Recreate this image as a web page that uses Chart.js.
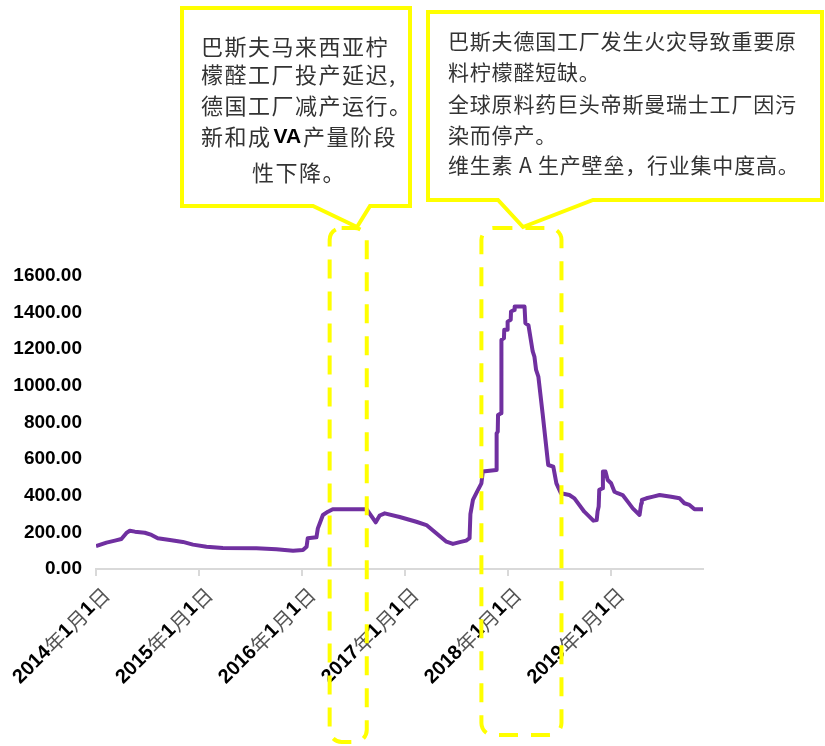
<!DOCTYPE html>
<html>
<head>
<meta charset="utf-8">
<script src="https://cdn.jsdelivr.net/npm/chart.js@4/dist/chart.umd.min.js"></script>
<style>
  body { margin: 0; background: #fff; }
  canvas { display: block; }
</style>
</head>
<body>
<canvas id="va_price" width="825" height="746"></canvas>
<script>
// 维生素A 价格走势 (元/公斤)
const dates = [
  "2014-01-01", "2014-02-07", "2014-03-09", "2014-04-01", "2014-04-19", "2014-05-01",
  "2014-05-19", "2014-06-23", "2014-07-17", "2014-08-08", "2014-09-20", "2014-11-05",
  "2014-12-11", "2015-01-28", "2015-03-27", "2015-07-24", "2015-10-03", "2015-12-01",
  "2016-01-05", "2016-01-18", "2016-01-22", "2016-02-22", "2016-02-27", "2016-03-05",
  "2016-03-16", "2016-04-03", "2016-04-20", "2016-08-19", "2016-09-04", "2016-09-20",
  "2016-10-04", "2016-10-22", "2016-12-14", "2017-02-11", "2017-03-19", "2017-04-23",
  "2017-05-29", "2017-06-21", "2017-07-15", "2017-08-07", "2017-08-19", "2017-08-22",
  "2017-08-31", "2017-09-12", "2017-09-30", "2017-10-05", "2017-11-22", "2017-11-23",
  "2017-11-27", "2017-11-28", "2017-12-09", "2017-12-10", "2017-12-19", "2017-12-20",
  "2017-12-31", "2018-01-01", "2018-01-12", "2018-01-13", "2018-01-25", "2018-01-26",
  "2018-03-02", "2018-03-05", "2018-03-16", "2018-03-31", "2018-04-06", "2018-04-12",
  "2018-04-20", "2018-05-05", "2018-05-25", "2018-06-12", "2018-06-23", "2018-07-09",
  "2018-08-08", "2018-08-26", "2018-09-12", "2018-09-30", "2018-10-18", "2018-11-01",
  "2018-11-13", "2018-11-16", "2018-11-20", "2018-11-22", "2018-12-04", "2018-12-05",
  "2018-12-14", "2018-12-22", "2019-01-03", "2019-01-15", "2019-01-26", "2019-02-13",
  "2019-03-03", "2019-03-21", "2019-04-14", "2019-04-20", "2019-04-22", "2019-05-08",
  "2019-06-01", "2019-06-24", "2019-08-04", "2019-09-03", "2019-09-20", "2019-10-08",
  "2019-10-26", "2019-11-25"
];
const prices = [
  125, 144, 155, 164, 197, 209,
  204, 198, 186, 168, 158, 148,
  133, 122, 115, 113, 108, 100,
  104, 122, 168, 173, 222, 250,
  295, 313, 326, 326, 290, 255,
  292, 304, 284, 258, 240, 195,
  149, 137, 147, 155, 168, 300,
  377, 414, 468, 532, 541, 741,
  750, 841, 851, 1251, 1261, 1306,
  1306, 1351, 1361, 1406, 1415, 1433,
  1433, 1343, 1330, 1188, 1160, 1087,
  1051, 851, 568, 559, 468, 414,
  404, 386, 350, 313, 286, 264,
  268, 313, 341, 432, 441, 532,
  532, 486, 468, 422, 414, 404,
  368, 331, 295, 359, 377, 386,
  395, 404, 395, 386, 359, 350,
  326, 326
];
const yTicks = [0, 200, 400, 600, 800, 1000, 1200, 1400, 1600];

// periods boxed with dashed lines, each tied to a note above
const eventWindows = [
  ["2016-04-09", "2016-08-19"],
  ["2017-09-30", "2018-07-11"]
];
const noteLeft = [
  "巴斯夫马来西亚柠",
  "檬醛工厂投产延迟,",
  "德国工厂减产运行。",
  "新和成|VA|产量阶段",
  "性下降。"
];
const noteRight = [
  "巴斯夫德国工厂发生火灾导致重要原",
  "料柠檬醛短缺。",
  "全球原料药巨头帝斯曼瑞士工厂因污",
  "染而停产。",
  "维生素 A 生产壁垒，行业集中度高。"
];

// date string -> fractional year, so year ticks fall on 1月1日
function toYear(s) {
  const [y, m, d] = s.split("-").map(Number);
  const start = Date.UTC(y, 0, 1), end = Date.UTC(y + 1, 0, 1);
  return y + (Date.UTC(y, m - 1, d) - start) / (end - start);
}

const points = dates.map((d, i) => ({ x: toYear(d), y: prices[i] }));
const xMax = toYear(dates[dates.length - 1]);

const CJK = '"Noto Sans CJK SC", sans-serif';
const LATIN = '"Liberation Sans", Arial, sans-serif';
const YELLOW = "#ffff00";

function drawDateLabel(ctx, px, py, year) {
  const parts = [
    [String(year), "bold 20px " + LATIN, "#000"],
    ["年", "20px " + CJK, "#555"],
    ["1", "bold 20px " + LATIN, "#000"],
    ["月", "20px " + CJK, "#555"],
    ["1", "bold 20px " + LATIN, "#000"],
    ["日", "20px " + CJK, "#555"]
  ];
  ctx.save();
  ctx.translate(px, py);
  ctx.rotate(-Math.PI / 4);
  ctx.textBaseline = "middle";
  ctx.textAlign = "left";
  let total = 0;
  const widths = parts.map(p => { ctx.font = p[1]; const w = ctx.measureText(p[0]).width; total += w; return w; });
  let cx = -total;
  parts.forEach((p, i) => {
    ctx.font = p[1];
    ctx.fillStyle = p[2];
    ctx.fillText(p[0], cx, 0);
    cx += widths[i];
  });
  ctx.restore();
}

function drawCallout(ctx, box, tail) {
  ctx.save();
  ctx.beginPath();
  ctx.moveTo(box.l, box.t);
  ctx.lineTo(box.r, box.t);
  ctx.lineTo(box.r, box.b);
  ctx.lineTo(tail.r, box.b);
  ctx.lineTo(tail.x, tail.y);
  ctx.lineTo(tail.l, box.b);
  ctx.lineTo(box.l, box.b);
  ctx.closePath();
  ctx.fillStyle = "#fff";
  ctx.fill();
  ctx.lineWidth = 4;
  ctx.strokeStyle = YELLOW;
  ctx.stroke();
  ctx.restore();
}

function drawNoteLines(ctx, lines, x, ys, size, spacing) {
  ctx.save();
  ctx.textBaseline = "middle";
  ctx.textAlign = "left";
  lines.forEach((line, i) => {
    let cx = i === 4 && lines === noteLeft ? x + 51 : x;
    line.split("|").forEach((seg, j) => {
      if (j === 1) {
        ctx.font = "bold " + (size - 1) + "px " + LATIN;
        ctx.letterSpacing = "0px";
        ctx.fillStyle = "#000";
      } else {
        ctx.font = size + "px " + CJK;
        ctx.letterSpacing = spacing + "px";
        ctx.fillStyle = "#333";
      }
      ctx.fillText(seg, cx, ys[i]);
      cx += ctx.measureText(seg).width + 2;
    });
  });
  ctx.restore();
}

const overlay = {
  id: "overlay",
  afterDraw(chart) {
    const { ctx, scales: { x } } = chart;

    // 年份刻度标签
    x.ticks.forEach(t => drawDateLabel(ctx, x.getPixelForValue(t.value) + 10, 591, t.value));

    // dashed boxes around the two price events
    ctx.save();
    ctx.strokeStyle = YELLOW;
    ctx.lineWidth = 4;
    ctx.setLineDash([19, 13]);
    const bottoms = [742, 735];
    eventWindows.forEach((w, i) => {
      const l = x.getPixelForValue(toYear(w[0]));
      const r = x.getPixelForValue(toYear(w[1]));
      ctx.beginPath();
      ctx.roundRect(l, 228, r - l, bottoms[i] - 228, 12);
      ctx.stroke();
    });
    ctx.restore();

    // notes
    drawCallout(ctx, { l: 182, t: 8, r: 410, b: 206 }, { l: 313, r: 370, x: 357, y: 227 });
    drawCallout(ctx, { l: 428, t: 12, r: 822, b: 200 }, { l: 498, r: 593, x: 523, y: 227 });
    drawNoteLines(ctx, noteLeft, 201, [47, 75, 106, 137, 173], 22, 1.5);
    drawNoteLines(ctx, noteRight, 448, [41, 72, 104, 135, 165], 21, 0.8);
  }
};

const chart = new Chart(document.getElementById("va_price"), {
  type: "line",
  data: {
    datasets: [{
      data: points,
      borderColor: "#7030A0",
      borderWidth: 4,
      borderJoinStyle: "round",
      pointRadius: 0,
      tension: 0,
      fill: false
    }]
  },
  options: {
    responsive: false,
    animation: false,
    layout: { padding: { top: 276, right: 122, left: 0, bottom: 0 } },
    plugins: { legend: { display: false }, tooltip: { enabled: false } },
    scales: {
      x: {
        type: "linear",
        min: 2014,
        max: xMax,
        ticks: { stepSize: 1, includeBounds: false, display: false },
        grid: { drawOnChartArea: false, color: "#d9d9d9", lineWidth: 2, tickLength: 7 },
        border: { color: "#d9d9d9", width: 2 },
        afterFit: s => { s.height = 177; }
      },
      y: {
        min: 0,
        max: 1600,
        afterBuildTicks: s => { s.ticks = yTicks.map(v => ({ value: v })); },
        ticks: {
          callback: v => v.toFixed(2),
          color: "#000",
          font: { family: LATIN, size: 19, weight: "bold" },
          padding: 14
        },
        grid: { display: false, drawTicks: false },
        border: { display: false },
        afterFit: s => { s.width = 96; }
      }
    }
  },
  plugins: [overlay]
});
</script>
</body>
</html>
